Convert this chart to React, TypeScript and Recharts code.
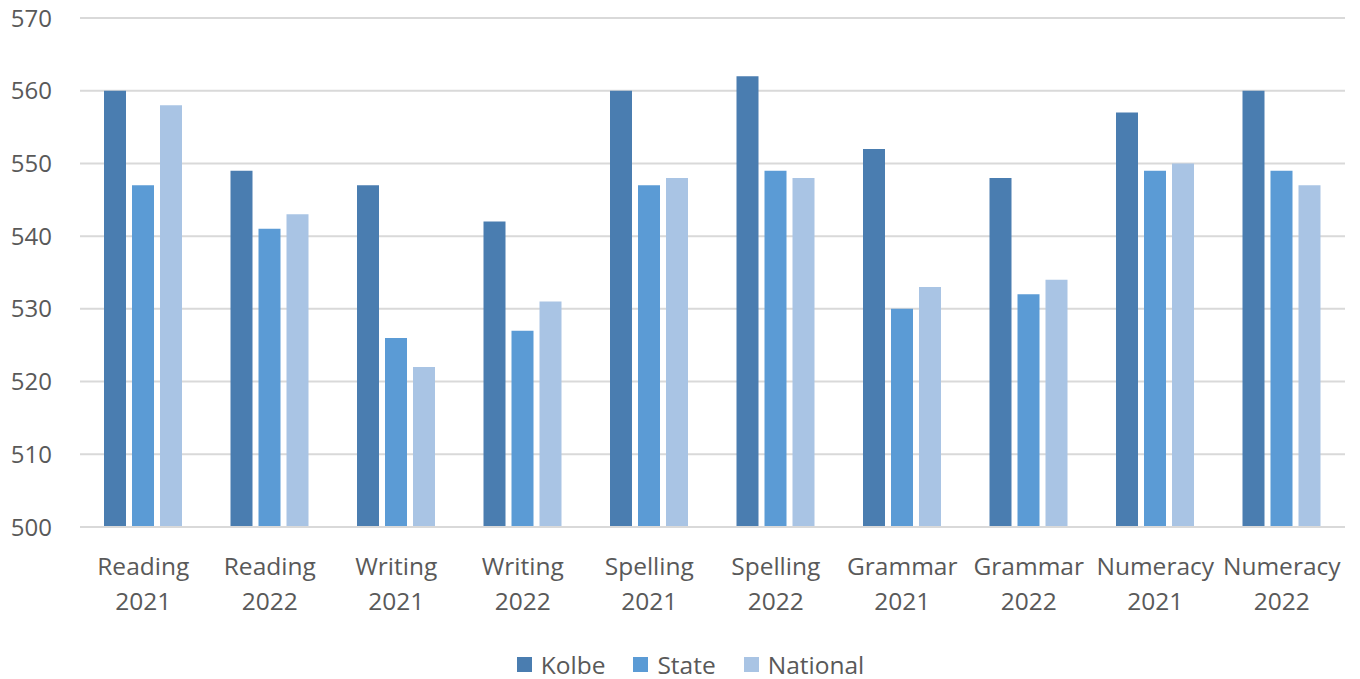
import { BarChart, Bar, XAxis, YAxis, CartesianGrid, Legend } from 'recharts';

const categories = [
  'Reading 2021', 'Reading 2022', 'Writing 2021', 'Writing 2022', 'Spelling 2021',
  'Spelling 2022', 'Grammar 2021', 'Grammar 2022', 'Numeracy 2021', 'Numeracy 2022',
];
const seriesNames = ['Kolbe', 'State', 'National'];
const seriesColors = ['#4a7db0', '#5b9bd5', '#a9c4e4'];
const kolbe = [560, 549, 547, 542, 560, 562, 552, 548, 557, 560];
const state = [547, 541, 526, 527, 547, 549, 530, 532, 549, 549];
const national = [558, 543, 522, 531, 548, 548, 533, 534, 550, 547];
const yTicks = [500, 510, 520, 530, 540, 550, 560, 570];

const data = categories.map((name, i) => ({
  name,
  Kolbe: kolbe[i],
  State: state[i],
  National: national[i],
}));

const FONT = 'Open Sans, Lato, sans-serif';
const TEXT = '#595959';

const CategoryTick = (props: any) => {
  const { x, y, payload } = props;
  const [subject, year] = String(payload.value).split(' ');
  return (
    <text x={x} y={y} textAnchor="middle" fill={TEXT} fontSize={24.5} fontFamily={FONT}>
      <tspan x={x} dy={40}>{subject}</tspan>
      <tspan x={x} dy={35}>{year}</tspan>
    </text>
  );
};

// legend kept in series order, with square swatches
const LegendContent = () => (
  <div
    style={{
      display: 'flex',
      justifyContent: 'center',
      alignItems: 'center',
      gap: 28,
      fontFamily: FONT,
      fontSize: 24.5,
      color: TEXT,
      height: 30,
      paddingLeft: 36,
    }}
  >
    {seriesNames.map((s, i) => (
      <div key={s} style={{ display: 'flex', alignItems: 'center', gap: 9 }}>
        <span style={{ width: 15, height: 15, background: seriesColors[i], display: 'inline-block' }} />
        <span>{s}</span>
      </div>
    ))}
  </div>
);

export default function App() {
  return (
    <div style={{ position: 'absolute', left: 0, top: 0, background: '#fff' }}>
      <BarChart
        width={1360}
        height={679}
        data={data}
        margin={{ top: 18, right: 15, left: 0, bottom: 0 }}
        barSize={22}
        barGap={6}
        barCategoryGap="19%"
      >
        <CartesianGrid vertical={false} stroke="#d9d9d9" strokeWidth={2} />
        <XAxis
          dataKey="name"
          axisLine={{ stroke: '#d9d9d9', strokeWidth: 2 }}
          tickLine={false}
          height={122}
          interval={0}
          tick={<CategoryTick />}
        />
        <YAxis
          domain={[500, 570]}
          ticks={yTicks}
          width={80}
          axisLine={false}
          tickLine={false}
          tickSize={0}
          tickMargin={28}
          tick={{ fill: TEXT, fontSize: 24, fontFamily: FONT }}
        />
        <Legend height={30} content={<LegendContent />} />
        <Bar dataKey="Kolbe" fill={seriesColors[0]} isAnimationActive={false} />
        <Bar dataKey="State" fill={seriesColors[1]} isAnimationActive={false} />
        <Bar dataKey="National" fill={seriesColors[2]} isAnimationActive={false} />
      </BarChart>
    </div>
  );
}
